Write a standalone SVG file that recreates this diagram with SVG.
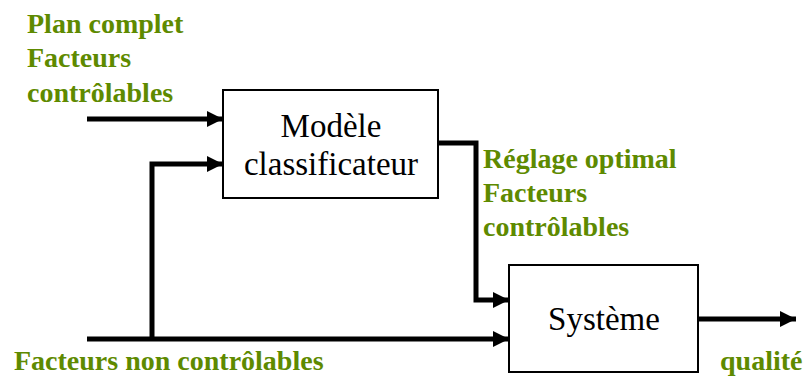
<svg xmlns="http://www.w3.org/2000/svg" width="806" height="376" viewBox="0 0 806 376">
<style>
.box{fill:#fff;stroke:#000;stroke-width:2}
.lbl{font-family:'Liberation Serif','Times New Roman',serif;font-size:33px;fill:#000}
.g{font-family:'Liberation Serif','Times New Roman',serif;font-size:28px;font-weight:bold;fill:#5e8a00}
.c{fill:none;stroke:#000;stroke-width:5;stroke-linejoin:miter}
</style>
<defs>
<marker id="ah" markerUnits="userSpaceOnUse" markerWidth="16" markerHeight="16" refX="16" refY="8" orient="auto">
<path d="M0,0 L16,8 L0,16 Z" fill="#000"/>
</marker>
</defs>
<rect width="806" height="376" fill="#fff"/>
<g id="connectors">
<path class="c" d="M87,119 H223" marker-end="url(#ah)"/>
<path class="c" d="M152,339 V164 H223" marker-end="url(#ah)"/>
<path class="c" d="M87,339 H509" marker-end="url(#ah)"/>
<path class="c" d="M438,143 H476 V300 H509" marker-end="url(#ah)"/>
<path class="c" d="M698,319 H796" marker-end="url(#ah)"/>
</g>
<g id="modele">
<rect class="box" x="223" y="90" width="215" height="108"/>
<text class="lbl" x="331" y="137" text-anchor="middle">Modèle</text>
<text class="lbl" x="331" y="175" text-anchor="middle">classificateur</text>
</g>
<g id="systeme">
<rect class="box" x="509" y="265" width="189" height="107"/>
<text class="lbl" x="604" y="330" text-anchor="middle">Système</text>
</g>
<g id="labels">
<text class="g" x="27" y="33">Plan complet</text>
<text class="g" x="27" y="67">Facteurs</text>
<text class="g" x="27" y="102">contrôlables</text>
<text class="g" x="483" y="168">Réglage optimal</text>
<text class="g" x="483" y="202">Facteurs</text>
<text class="g" x="483" y="236">contrôlables</text>
<text class="g" x="14" y="370">Facteurs non contrôlables</text>
<text class="g" x="720" y="370">qualité</text>
</g>
</svg>
